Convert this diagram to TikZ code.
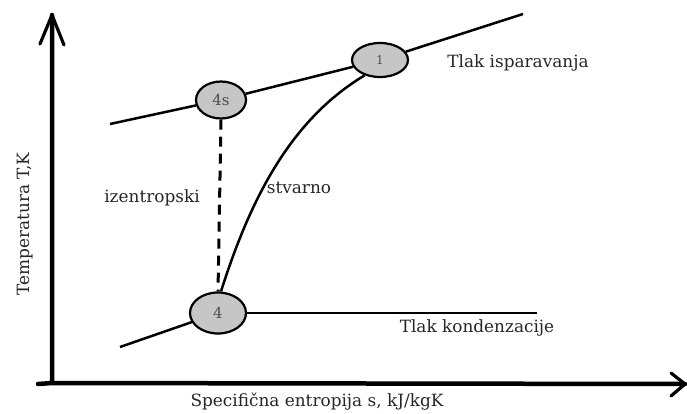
\documentclass[tikz,border=0pt]{standalone}
\usepackage{fontspec}
\setmainfont{DejaVu Serif}
\usetikzlibrary{shapes.geometric}
\begin{document}
\begin{tikzpicture}[x=1pt,y=-1pt,
  axis/.style={line width=4.5pt,line cap=round,line join=round},
  tip/.style={line width=3.2pt,line cap=round,line join=round},
  iso/.style={line width=2.5pt},
  state/.style={ellipse,draw,line width=2.2pt,fill=gray!45,inner sep=0pt,font=\fontsize{15}{16}\selectfont,text=black!70},
  lbl/.style={font=\fontsize{16.9}{18}\selectfont,text=black!85,inner sep=0pt}]
\useasboundingbox (0,0) rectangle (687,414);
% axes
\coordinate (O) at (52,383);
\coordinate (Ytop) at (52,15);
\coordinate (Xend) at (685,384);
\draw[axis] (Ytop) -- (O) -- (38,384) (O) -- (Xend);
\draw[tip] (40,44) -- (Ytop) -- (64,45);
\draw[tip] (671,373) -- (Xend) -- (671,396);
% states
\node[state,minimum width=50pt,minimum height=37pt] (s4s) at (221,100) {4s};
\node[state,minimum width=56pt,minimum height=34pt,font=\fontsize{12}{13}\selectfont] (s1) at (380,60) {1};
\node[state,minimum width=56pt,minimum height=41pt] (s4) at (218,313) {4};
% isobars
\coordinate (a) at (110,124);
\coordinate (b) at (523,14);
\coordinate (c) at (120,347);
\coordinate (d) at (537,313);
\draw[iso] (a) -- (s4s);
\draw[iso] (s4s) -- (s1);
\draw[iso] (s1) -- (b);
\draw[iso] (c) -- (s4);
\draw[iso] (s4) -- (d);
% processes
\draw[line width=3pt,dash pattern=on 10pt off 7pt] (s4s.south) -- (s4.north);
\draw[iso] (s4.north) ++(3,0) coordinate (e) .. controls (250,200) and (290,120) .. (s1.-135);
% labels
\node[lbl] (t1) at (518,63) {Tlak isparavanja};
\node[lbl] (t2) at (477,328) {Tlak kondenzacije};
\node[lbl] (t3) at (152,198) {izentropski};
\node[lbl] (t4) at (299,188) {stvarno};
\node[lbl,rotate=90] (t5) at (25,224) {Temperatura T,K};
\node[lbl] (t6) at (317,402) {Specifična entropija s, kJ/kgK};
\end{tikzpicture}
\end{document}
